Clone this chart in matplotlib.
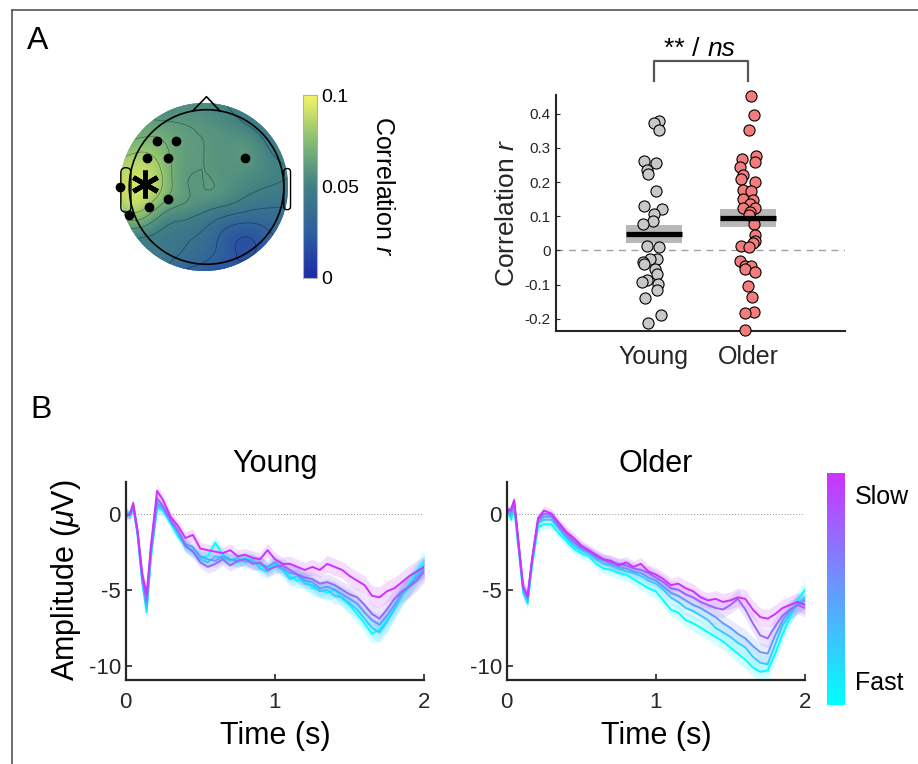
import numpy as np
import matplotlib
matplotlib.use('Agg')
import matplotlib.pyplot as plt
import matplotlib.tri as mtri
from matplotlib.colors import LinearSegmentedColormap, Normalize
from matplotlib.cm import ScalarMappable
from matplotlib.patches import Circle, FancyBboxPatch
from matplotlib.lines import Line2D

plt.rcParams['font.family'] = ['Liberation Sans', 'DejaVu Sans']
plt.rcParams['mathtext.fontset'] = 'custom'
plt.rcParams['mathtext.rm'] = 'Liberation Sans'
plt.rcParams['mathtext.it'] = 'Liberation Sans:italic'
plt.rcParams['axes.unicode_minus'] = False

# ---------------- Panel A: topography (correlation r on a coarse scalp grid) ----------------
TOPO_X = [-1.0, -0.75, -0.5, -0.25, 0.0, 0.25, 0.5, 0.75, 1.0]
TOPO_Y = [1.0, 0.75, 0.5, 0.25, 0.0, -0.25, -0.5, -0.75, -1.0]
TOPO_R = [
    [0.050, 0.050, 0.050, 0.055, 0.055, 0.050, 0.045, 0.045, 0.045],
    [0.058, 0.062, 0.062, 0.060, 0.058, 0.055, 0.050, 0.045, 0.045],
    [0.070, 0.075, 0.072, 0.063, 0.060, 0.058, 0.058, 0.050, 0.045],
    [0.083, 0.088, 0.078, 0.063, 0.060, 0.058, 0.058, 0.053, 0.050],
    [0.088, 0.092, 0.080, 0.062, 0.060, 0.058, 0.053, 0.050, 0.048],
    [0.080, 0.083, 0.066, 0.058, 0.053, 0.048, 0.043, 0.040, 0.040],
    [0.058, 0.058, 0.050, 0.045, 0.040, 0.030, 0.025, 0.030, 0.035],
    [0.045, 0.045, 0.045, 0.040, 0.035, 0.025, 0.018, 0.025, 0.030],
    [0.040, 0.040, 0.040, 0.030, 0.025, 0.020, 0.025, 0.030, 0.035],
]
# significant electrodes (normalised scalp coordinates)
ELEC_X = [-0.56, -0.33, 0.49, -0.68, -0.43, -1.0, -0.43, -0.66, -0.89]
ELEC_Y = [0.55, 0.55, 0.35, 0.34, 0.34, 0.0, -0.14, -0.24, -0.33]
PEAK_XY = (-0.70, 0.04)

# ---------------- Panel A: single-subject correlations ----------------
GROUPS = ['Young', 'Older']
YOUNG_R = [0.38, 0.372, 0.352, 0.262, 0.257, 0.235, 0.225, 0.174, 0.13, 0.12,
           0.107, 0.085, 0.077, 0.014, 0.009, -0.025, -0.026, -0.035, -0.04,
           -0.055, -0.068, -0.086, -0.093, -0.098, -0.115, -0.14, -0.19, -0.211]
YOUNG_JIT = [0.053, 0.0, 0.053, -0.103, 0.021, -0.078, -0.06, 0.018, -0.103, 0.082,
             0.0, -0.014, -0.113, -0.071, 0.053, 0.035, -0.043, -0.12, -0.103,
             0.011, 0.028, -0.078, -0.124, 0.039, 0.028, -0.096, 0.074, -0.06]
OLDER_R = [0.453, 0.397, 0.352, 0.276, 0.268, 0.26, 0.243, 0.221, 0.21, 0.2,
           0.177, 0.175, 0.151, 0.148, 0.136, 0.125, 0.123, 0.113, 0.104, 0.078,
           0.046, 0.028, 0.021, 0.014, 0.009, -0.032, -0.045, -0.045, -0.054,
           -0.062, -0.104, -0.135, -0.18, -0.184, -0.234]
OLDER_JIT = [0.035, 0.06, 0.011, 0.089, -0.064, 0.074, -0.089, -0.053, -0.071, 0.074,
             -0.053, 0.035, -0.053, 0.053, 0.025, 0.074, -0.053, 0.018, 0.011, 0.06,
             0.074, 0.074, 0.053, -0.071, 0.011, -0.089, -0.032, 0.035, -0.035,
             0.074, 0.0, 0.046, 0.06, -0.028, -0.035]
GROUP_MEAN = [0.048, 0.095]
GROUP_SEM = [0.027, 0.027]

# ---------------- Panel B: ERPs by RT bin (fast -> slow) ----------------
TIME = [0.0, 0.03, 0.05, 0.08, 0.11, 0.14, 0.17, 0.21, 0.25,
        0.30, 0.35, 0.40, 0.45, 0.50, 0.55, 0.60, 0.65, 0.70, 0.75,
        0.80, 0.85, 0.90, 0.95, 1.00, 1.05, 1.10, 1.15, 1.20, 1.25,
        1.30, 1.35, 1.40, 1.45, 1.50, 1.55, 1.60, 1.65, 1.70, 1.75,
        1.80, 1.85, 1.90, 1.95, 2.00]

YOUNG_Q1 = [0.3, -0.2, 0.4, -1.4, -4.5, -6.5, -2.8, 0.4, 0.2,
            -0.6, -1.5, -2.1, -2.5, -2.9, -2.8, -1.9, -2.7, -3.0, -3.2,
            -2.9, -3.1, -3.4, -3.6, -3.3, -3.6, -4.1, -4.4, -4.3, -4.9,
            -5.0, -5.2, -5.0, -5.6, -6.0, -6.6, -7.2, -7.9, -7.6, -7.0,
            -6.2, -5.4, -4.6, -3.8, -3.1]
YOUNG_Q2 = [0.1, -0.1, 0.5, -1.4, -4.4, -6.2, -2.6, 0.5, 0.3,
            -0.5, -1.3, -2.2, -2.4, -3.0, -3.2, -2.8, -2.9, -3.1, -2.9,
            -3.2, -3.0, -3.6, -3.8, -3.4, -3.7, -4.3, -4.1, -4.6, -4.7,
            -5.1, -5.0, -5.4, -5.5, -5.9, -6.3, -6.9, -7.5, -7.8, -7.1,
            -6.3, -5.4, -4.8, -4.0, -3.4]
YOUNG_Q3 = [0.0, -0.1, 0.6, -1.3, -4.2, -6.0, -2.4, 0.7, 0.4,
            -0.5, -1.2, -2.0, -2.2, -2.8, -3.0, -3.1, -2.8, -3.0, -3.1,
            -3.0, -3.2, -3.3, -3.5, -3.2, -3.6, -3.9, -4.0, -4.4, -4.5,
            -4.9, -4.8, -5.0, -5.3, -5.6, -5.9, -6.5, -7.0, -7.3, -6.7,
            -6.0, -5.2, -4.7, -4.2, -3.6]
YOUNG_Q4 = [-0.1, 0.0, 0.6, -1.2, -4.1, -5.7, -2.2, 1.0, 0.5,
            -0.4, -1.1, -2.1, -2.5, -3.2, -3.5, -3.3, -3.0, -3.4, -3.1,
            -3.0, -3.3, -3.2, -3.7, -3.5, -3.4, -3.7, -4.0, -4.2, -4.3,
            -4.6, -4.5, -4.7, -5.0, -5.3, -5.5, -6.0, -6.6, -6.9, -6.3,
            -5.6, -5.1, -4.8, -4.4, -3.8]
YOUNG_Q5 = [-0.2, 0.0, 0.7, -1.2, -3.9, -5.3, -2.0, 1.5, 0.9,
            -0.2, -0.8, -1.6, -1.4, -2.3, -2.4, -2.5, -2.6, -2.4, -2.8,
            -2.7, -2.9, -3.0, -2.4, -3.0, -3.3, -3.3, -3.5, -3.7, -3.5,
            -3.7, -3.3, -3.5, -3.7, -4.1, -4.4, -4.7, -5.4, -5.5, -5.1,
            -4.9, -4.5, -4.1, -3.8, -3.5]
YOUNG_SEM = [0.25, 0.3, 0.3, 0.35, 0.4, 0.45, 0.4, 0.4, 0.35,
             0.35, 0.35, 0.4, 0.4, 0.4, 0.4, 0.45, 0.4, 0.4, 0.4,
             0.4, 0.45, 0.45, 0.45, 0.45, 0.45, 0.5, 0.5, 0.5, 0.5,
             0.5, 0.55, 0.55, 0.55, 0.6, 0.6, 0.6, 0.65, 0.7, 0.7,
             0.7, 0.7, 0.7, 0.7, 0.7]

OLDER_Q1 = [0.4, -0.4, 0.4, -2.4, -5.2, -5.9, -3.4, -0.9, -0.7,
            -0.7, -1.3, -1.8, -2.3, -2.6, -2.8, -3.3, -3.6, -3.7, -3.9,
            -4.0, -4.3, -4.6, -4.9, -5.1, -5.7, -6.3, -6.5, -7.0, -7.2,
            -7.5, -7.8, -8.1, -8.4, -8.8, -9.2, -9.6, -10.1, -10.4, -10.3,
            -9.2, -7.9, -6.8, -5.7, -5.0]
OLDER_Q2 = [0.3, -0.2, 0.6, -2.2, -5.0, -5.8, -3.2, -0.6, -0.4,
            -0.4, -1.0, -1.6, -2.1, -2.4, -2.6, -3.0, -3.3, -3.4, -3.6,
            -3.8, -3.9, -4.1, -4.4, -4.6, -5.0, -5.5, -5.8, -6.2, -6.4,
            -6.7, -7.0, -7.5, -7.8, -8.1, -8.5, -8.8, -9.4, -9.8, -9.9,
            -8.6, -7.3, -6.6, -5.9, -5.5]
OLDER_Q3 = [0.2, 0.0, 0.7, -2.1, -4.9, -5.6, -3.1, -0.5, -0.2,
            -0.2, -0.9, -1.5, -1.9, -2.3, -2.5, -2.9, -3.1, -3.3, -3.5,
            -3.6, -3.8, -3.9, -4.2, -4.4, -4.8, -5.2, -5.4, -5.7, -6.0,
            -6.2, -6.5, -6.8, -7.2, -7.5, -7.9, -8.2, -8.7, -9.1, -9.2,
            -8.0, -7.0, -6.4, -6.0, -5.7]
OLDER_Q4 = [0.1, 0.2, 0.8, -2.0, -4.8, -5.5, -3.0, -0.4, 0.0,
            -0.1, -0.8, -1.3, -1.8, -2.2, -2.5, -2.8, -3.0, -3.2, -3.3,
            -3.4, -3.6, -3.7, -3.9, -4.2, -4.5, -4.9, -5.0, -5.3, -5.5,
            -5.8, -6.0, -6.2, -6.3, -6.0, -5.6, -6.3, -7.2, -8.0, -8.2,
            -7.4, -6.7, -6.3, -6.0, -6.2]
OLDER_Q5 = [0.2, 0.3, 0.9, -2.0, -4.8, -5.4, -3.0, -0.3, 0.2,
            0.0, -0.6, -1.2, -1.6, -2.1, -2.4, -2.7, -3.0, -3.1, -3.4,
            -3.2, -3.5, -3.3, -3.8, -4.0, -4.3, -4.7, -4.6, -4.9, -5.1,
            -5.5, -5.7, -5.6, -5.8, -5.7, -5.5, -5.6, -6.3, -6.8, -6.9,
            -6.6, -6.2, -6.0, -5.8, -6.0]
OLDER_SEM = [0.25, 0.3, 0.3, 0.35, 0.4, 0.4, 0.35, 0.35, 0.3,
             0.3, 0.3, 0.35, 0.35, 0.35, 0.35, 0.35, 0.35, 0.4, 0.4,
             0.4, 0.4, 0.4, 0.45, 0.45, 0.45, 0.45, 0.5, 0.5, 0.5,
             0.5, 0.5, 0.55, 0.55, 0.55, 0.6, 0.6, 0.6, 0.6, 0.6,
             0.6, 0.6, 0.6, 0.6, 0.6]

DARK = '#262626'
topo_cmap = LinearSegmentedColormap.from_list('topo', [
    (0.0, (0.11, 0.17, 0.66)),
    (0.25, (0.18, 0.37, 0.62)),
    (0.5, (0.25, 0.50, 0.52)),
    (0.75, (0.52, 0.74, 0.45)),
    (1.0, (0.96, 0.96, 0.38))])
rt_cmap = LinearSegmentedColormap.from_list('rt', plt.cm.cool(np.linspace(0, 0.8, 256)))
LINE_COLORS = [plt.cm.cool(v) for v in [0.0, 0.2, 0.4, 0.6, 0.8]]

fig = plt.figure(figsize=(9.18, 7.64), dpi=100)


def fig_rect(x0, y0, x1, y1):
    # pixel box (top-left origin) -> figure fraction rect
    W, H = 918.0, 764.0
    return [x0 / W, 1 - y1 / H, (x1 - x0) / W, (y1 - y0) / H]


# ---- topography ----
ax_t = fig.add_axes(fig_rect(94.8, 77.8, 313.2, 296.2))
ax_t.set_xlim(-1.3, 1.3)
ax_t.set_ylim(-1.3, 1.3)
ax_t.axis('off')

gx, gy = np.meshgrid(TOPO_X, TOPO_Y)
z = np.array(TOPO_R).ravel()
tri = mtri.Triangulation(gx.ravel(), gy.ravel())
interp = mtri.CubicTriInterpolator(tri, z)
tri_f, z_f = mtri.UniformTriRefiner(tri).refine_field(z, triinterpolator=interp, subdiv=4)
disc = Circle((0, 0), 1.0, transform=ax_t.transData)
tp = ax_t.tripcolor(tri_f, z_f, shading='gouraud', cmap=topo_cmap, vmin=0, vmax=0.1,
                    alpha=0.9, rasterized=True)
tp.set_clip_path(disc)
cl = ax_t.tricontour(tri_f, z_f, levels=[0.02, 0.03, 0.04, 0.05, 0.06, 0.07, 0.08],
                     colors='k', linewidths=0.5, alpha=0.4)
cl.set_clip_path(disc)

hc = (0.03, 0.0)
hr = 0.92
ax_t.add_patch(Circle(hc, hr, fill=False, ec='k', lw=1.2, zorder=5))
ax_t.plot([-0.135, 0.03, 0.19], [0.905, 1.075, 0.905], color='k', lw=1.2, zorder=5)
ax_t.add_patch(FancyBboxPatch((-0.99, -0.30), 0.12, 0.53,
                              boxstyle='round,pad=0,rounding_size=0.06',
                              fill=False, ec='k', lw=1.0, zorder=5))
ax_t.add_patch(FancyBboxPatch((0.95, -0.27), 0.08, 0.49,
                              boxstyle='round,pad=0,rounding_size=0.04',
                              fill=False, ec='k', lw=1.0, zorder=5))
ax_t.plot(ELEC_X, ELEC_Y, 'o', color='k', ms=6, zorder=6)
ax_t.plot([PEAK_XY[0]], [PEAK_XY[1]], marker=(6, 2, 0), color='k', ms=20, mew=3.5, zorder=7)

cax_t = fig.add_axes(fig_rect(303.3, 95, 316.7, 278))
cb = fig.colorbar(ScalarMappable(norm=Normalize(0, 0.1), cmap=topo_cmap), cax=cax_t)
cb.set_ticks([0, 0.05, 0.1])
cb.set_ticklabels(['0', '0.05', '0.1'])
cb.ax.tick_params(length=0, labelsize=14, pad=3)
cb.outline.set_edgecolor('#b0b0b0')
cb.outline.set_linewidth(0.8)
cb.set_label(r'Correlation $r$', rotation=270, fontsize=18, labelpad=26)

# ---- scatter of correlations ----
ax_s = fig.add_axes(fig_rect(556, 95, 845, 330.7))
group_r = [YOUNG_R, OLDER_R]
group_jit = [YOUNG_JIT, OLDER_JIT]
face = ['#c8c8c8', '#f47c7c']
for i in range(2):
    xc = i + 1
    ax_s.add_patch(plt.Rectangle((xc - 0.3, GROUP_MEAN[i] - GROUP_SEM[i]), 0.6, 2 * GROUP_SEM[i],
                                 color='#a0a0a0', alpha=0.75, lw=0, zorder=1))
    ax_s.scatter(xc + np.array(group_jit[i]), group_r[i], s=64, c=face[i], edgecolors='k',
                 linewidths=0.8, zorder=3, clip_on=False)
    ax_s.plot([xc - 0.3, xc + 0.3], [GROUP_MEAN[i]] * 2, color='k', lw=3.8, zorder=4,
              solid_capstyle='butt')
ax_s.axhline(0, color='#a0a0a0', lw=1, ls=(0, (5, 4)), zorder=0)
ax_s.set_xlim(-0.04, 3.03)
ax_s.set_ylim(-0.235, 0.455)
ax_s.set_xticks([1, 2])
ax_s.set_xticklabels(GROUPS)
ax_s.set_yticks([-0.2, -0.1, 0, 0.1, 0.2, 0.3, 0.4])
ax_s.set_yticklabels(['-0.2', '-0.1', '0', '0.1', '0.2', '0.3', '0.4'])
ax_s.tick_params(axis='y', direction='in', length=3, labelsize=11, colors=DARK, pad=4)
ax_s.tick_params(axis='x', length=0, labelsize=18, colors=DARK, pad=10)
ax_s.set_ylabel(r'Correlation $r$', fontsize=19, color=DARK, labelpad=4)
for sp in ['top', 'right']:
    ax_s.spines[sp].set_visible(False)
for sp in ['left', 'bottom']:
    ax_s.spines[sp].set_linewidth(1.5)
    ax_s.spines[sp].set_color(DARK)
# significance bracket
btr = ax_s.get_xaxis_transform()
ax_s.plot([1, 1, 2, 2], [1.059, 1.144, 1.144, 1.059], color='#555555', lw=1.6,
          transform=btr, clip_on=False)
ax_s.text(1.48, 1.165, '** /', transform=btr, ha='right', va='baseline', fontsize=19, color='k')
ax_s.text(1.565, 1.165, 'ns', transform=btr, ha='left', va='baseline', fontsize=19,
          style='italic', color='k')

# ---- ERP panels ----
def erp_panel(ax, curves, sem, title, show_ylabel):
    s = np.array(sem)
    for c, y in zip(LINE_COLORS, curves):
        y = np.array(y)
        ax.fill_between(TIME, y - s, y + s, color=c, alpha=0.17, lw=0, zorder=1)
    for c, y in zip(LINE_COLORS, curves):
        ax.plot(TIME, y, color=c, lw=1.4, zorder=2)
    ax.axhline(0, color='#909090', lw=0.7, ls=(0, (1, 2)), zorder=0)
    ax.set_xlim(0, 2)
    ax.set_ylim(-10.9, 2.1)
    ax.set_xticks([0, 1, 2])
    ax.set_yticks([-10, -5, 0])
    ax.tick_params(direction='in', length=4, width=1.2, labelsize=16, colors=DARK)
    ax.tick_params(axis='x', pad=9)
    ax.set_title(title, fontsize=22, pad=7)
    ax.set_xlabel('Time (s)', fontsize=22, labelpad=6)
    if show_ylabel:
        ax.set_ylabel(r'Amplitude ($\mu$V)', fontsize=22, labelpad=4)
    for sp in ['top', 'right']:
        ax.spines[sp].set_visible(False)
    for sp in ['left', 'bottom']:
        ax.spines[sp].set_linewidth(1.6)
        ax.spines[sp].set_color(DARK)


ax_y = fig.add_axes(fig_rect(125.7, 481.7, 424.3, 679.5))
erp_panel(ax_y, [YOUNG_Q1, YOUNG_Q2, YOUNG_Q3, YOUNG_Q4, YOUNG_Q5], YOUNG_SEM, 'Young', True)
ax_o = fig.add_axes(fig_rect(506.7, 481.7, 805, 679.5))
erp_panel(ax_o, [OLDER_Q1, OLDER_Q2, OLDER_Q3, OLDER_Q4, OLDER_Q5], OLDER_SEM, 'Older', False)

cax_r = fig.add_axes(fig_rect(826.7, 473.3, 845, 705))
cbr = fig.colorbar(ScalarMappable(norm=Normalize(0, 1), cmap=rt_cmap), cax=cax_r)
cbr.set_ticks([])
cbr.outline.set_visible(False)
cax_r.text(1.55, 0.898, 'Slow', transform=cax_r.transAxes, fontsize=18, va='center', ha='left')
cax_r.text(1.55, 0.095, 'Fast', transform=cax_r.transAxes, fontsize=18, va='center', ha='left')

# panel letters and frame
fig.text(27 / 918, 1 - 49 / 764, 'A', fontsize=23, va='baseline')
fig.text(30 / 918, 1 - 418 / 764, 'B', fontsize=23, va='baseline')
fig.add_artist(Line2D([12 / 918, 1.0], [1 - 10 / 764, 1 - 10 / 764], transform=fig.transFigure,
                      color='#555555', lw=1.2))
fig.add_artist(Line2D([12 / 918, 12 / 918], [0.0, 1 - 10 / 764], transform=fig.transFigure,
                      color='#555555', lw=1.2))

fig.savefig('out.png', dpi=100, facecolor='white')
